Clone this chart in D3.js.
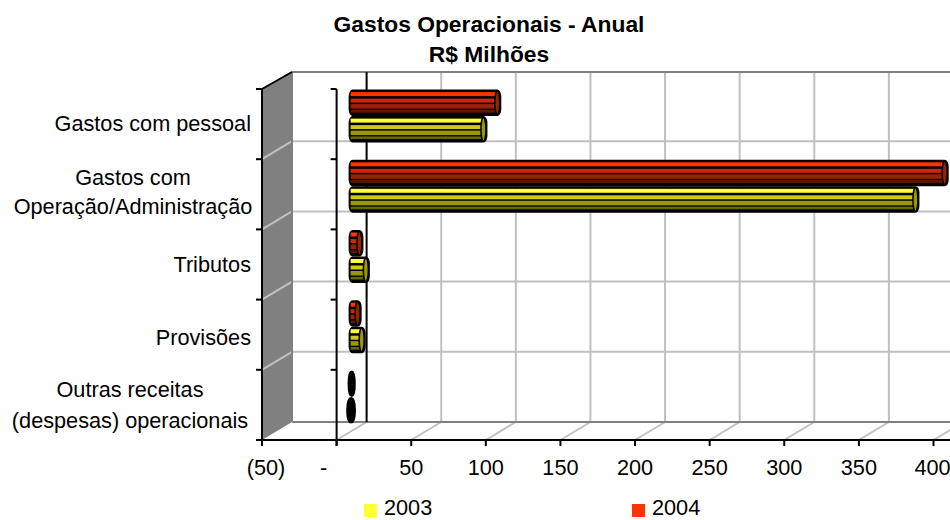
<!DOCTYPE html>
<html>
<head>
<meta charset="utf-8">
<script src="https://cdn.jsdelivr.net/npm/d3@7"></script>
<style>
html, body { margin: 0; padding: 0; background: #fff; }
text { font-family: "Liberation Sans", Arial, sans-serif; fill: #000; }
</style>
</head>
<body>
<div id="chart"></div>
<script>
var categories = ["Gastos com pessoal", "Gastos com Operação/Administração", "Tributos", "Provisões", "Outras receitas (despesas) operacionais"];
var categoryLines = [["Gastos com pessoal"], ["Gastos com", "Operação/Administração"], ["Tributos"], ["Provisões"], ["Outras receitas", "(despesas) operacionais"]];
var series = ["2004", "2003"];
var values2003 = [87, 376.5, 8.2, 5.4, -1.7];
var values2004 = [96.3, 396.1, 3.9, 2.7, -1.3];
var xTicks = [-50, 0, 50, 100, 150, 200, 250, 300, 350, 400];
var xTickLabels = ["(50)", "-", "50", "100", "150", "200", "250", "300", "350", "400"];
var titleLines = ["Gastos Operacionais - Anual", "R$ Milhões"];

var width = 950, height = 520;
var depthX = 30, depthY = -18;
var labelSize = "21.7px";

var svg = d3.select("#chart").append("svg")
    .attr("width", width)
    .attr("height", height)
    .style("display", "block");

// front plane scales, the back wall is the same thing shifted by depth
var x = d3.scaleLinear().domain([-50, 400]).range([262, 933.5]);
var y = d3.scaleBand().domain(categories).range([89, 440]);
var ySeries = d3.scaleBand().domain(series).range([0, 53]);

var colors = {
    "2003": {light: "#ffff33", mid: "#cccc11", dark: "#999900", darker: "#666600"},
    "2004": {light: "#ff3300", mid: "#cc2900", dark: "#992200", darker: "#661600"}
};

// back wall + side wall + floor
var x0 = x(-50);
svg.append("polygon")
    .attr("points", [[x0, 89], [x0 + depthX, 89 + depthY], [x0 + depthX, 440 + depthY], [x0, 440]].join(" "))
    .attr("fill", "#808080");

var yEdges = d3.range(0, 6).map(i => 89 + i * y.step());

// gridlines
var grid = svg.append("g").attr("stroke", "#c0c0c0").attr("stroke-width", 2).attr("fill", "none");
yEdges.slice(1, 5).forEach(function(v) {
    grid.append("line").attr("x1", x0).attr("y1", v).attr("x2", x0 + depthX).attr("y2", v + depthY);
    grid.append("line").attr("x1", x0 + depthX).attr("y1", v + depthY).attr("x2", width).attr("y2", v + depthY);
});
xTicks.slice(2).forEach(function(t) {
    grid.append("line").attr("x1", x(t) + depthX).attr("y1", 72).attr("x2", x(t) + depthX).attr("y2", 422);
    grid.append("line").attr("x1", x(t)).attr("y1", 440).attr("x2", x(t) + depthX).attr("y2", 422);
});
grid.append("line").attr("x1", x(0)).attr("y1", 440).attr("x2", x(0) + depthX).attr("y2", 422);

// grey frame
var frame = svg.append("g").attr("stroke", "#808080").attr("stroke-width", 2).attr("fill", "none");
frame.append("line").attr("x1", x0 + depthX).attr("y1", 72).attr("x2", width).attr("y2", 72);
frame.append("line").attr("x1", x0 + depthX).attr("y1", 422).attr("x2", width).attr("y2", 422);
frame.append("line").attr("x1", x0 + depthX).attr("y1", 72).attr("x2", x0 + depthX).attr("y2", 422);

// zero line on the back wall
svg.append("line")
    .attr("x1", x(0) + depthX).attr("y1", 72)
    .attr("x2", x(0) + depthX).attr("y2", 422)
    .attr("stroke", "#000").attr("stroke-width", 2);

// black axis lines
var axes = svg.append("g").attr("stroke", "#000").attr("stroke-width", 2).attr("fill", "none");
axes.append("line").attr("x1", x0).attr("y1", 89).attr("x2", x0).attr("y2", 446);
axes.append("line").attr("x1", x0).attr("y1", 89).attr("x2", x0 + depthX).attr("y2", 72);
axes.append("line").attr("x1", x0 - 6).attr("y1", 440).attr("x2", width).attr("y2", 440);
axes.append("line").attr("x1", x(0)).attr("y1", 89).attr("x2", x(0)).attr("y2", 446);
yEdges.forEach(function(v) {
    axes.append("line").attr("x1", x0 - 6).attr("y1", v).attr("x2", x0).attr("y2", v);
    axes.append("line").attr("x1", x(0) - 6).attr("y1", v).attr("x2", x(0)).attr("y2", v);
});
xTicks.forEach(function(t) {
    axes.append("line").attr("x1", x(t)).attr("y1", 440).attr("x2", x(t)).attr("y2", 446);
});

// cylinders, a bit past halfway through the depth of the chart
// stripes are pixel offsets from the top of the black body
var stripes = [[2.5, 6.5, "light"], [9, 13, "mid"], [14.5, 19, "dark"], [20.3, 23, "darker"]];

function drawCylinder(g, value, name, category) {
    var c = colors[name];
    var h = ySeries.bandwidth();
    var top = y(category) + y.step() / 2 + depthY / 2 + 1 - 26.5 + ySeries(name);
    var xa = x(0) + 17, xb = x(value) + 17;
    var bar = g.append("g");
    if (value < 0) {
        // too small to see the body, only a black blob is left
        bar.append("ellipse")
            .attr("cx", xb).attr("cy", top + h / 2)
            .attr("rx", Math.abs(value) * 2).attr("ry", h / 2 - 1.5)
            .attr("fill", "#000").attr("stroke", "#000").attr("stroke-width", 3);
        return;
    }
    var rx = 2.5;
    bar.append("rect")
        .attr("x", xa - 5).attr("y", top)
        .attr("width", xb + rx + 1.5 - (xa - 5)).attr("height", h)
        .attr("rx", 4).attr("ry", 7)
        .attr("fill", "#000");
    stripes.forEach(function(s) {
        bar.append("rect")
            .attr("x", xa - 3).attr("y", top + s[0])
            .attr("width", xb - xa + 3)
            .attr("height", s[1] - s[0])
            .attr("fill", c[s[2]]);
    });
    bar.append("ellipse")
        .attr("cx", xb).attr("cy", top + h / 2)
        .attr("rx", rx).attr("ry", h / 2 - 1.5)
        .attr("fill", c.dark).attr("stroke", "#000").attr("stroke-width", 1.5);
}
var bars = svg.append("g");
categories.forEach(function(cat, i) {
    drawCylinder(bars, values2004[i], "2004", cat);
    drawCylinder(bars, values2003[i], "2003", cat);
});

// title
svg.append("g").selectAll("text").data(titleLines).join("text")
    .attr("x", 489)
    .attr("y", (d, i) => 32 + i * 30)
    .attr("text-anchor", "middle")
    .style("font-size", "22.8px")
    .style("font-weight", "bold")
    .text(d => d);

// category labels, baselines
var labelBaselines = [[131], [185, 214], [272], [345], [397, 428]];
categories.forEach(function(cat, i) {
    var lines = categoryLines[i];
    var g = svg.append("g");
    lines.forEach(function(line, j) {
        g.append("text")
            .attr("x", lines.length == 1 ? 251 : (i == 1 ? 133 : 130))
            .attr("y", labelBaselines[i][j])
            .attr("text-anchor", lines.length == 1 ? "end" : "middle")
            .style("font-size", labelSize)
            .text(line);
    });
});

// x labels
svg.append("g").selectAll("text").data(xTicks).join("text")
    .attr("x", d => x(d) + (d == 0 ? -13 : d == -50 ? 4 : d == 400 ? -1 : 0))
    .attr("y", 475)
    .attr("text-anchor", "middle")
    .style("font-size", labelSize)
    .text((d, i) => xTickLabels[i]);

// legend
var legendX = {"2003": 364, "2004": 632};
["2003", "2004"].forEach(function(name) {
    svg.append("rect")
        .attr("x", legendX[name]).attr("y", 504)
        .attr("width", 13).attr("height", 13)
        .attr("fill", colors[name].light);
    svg.append("text")
        .attr("x", legendX[name] + 20).attr("y", 515)
        .style("font-size", labelSize)
        .text(name);
});
</script>
</body>
</html>
